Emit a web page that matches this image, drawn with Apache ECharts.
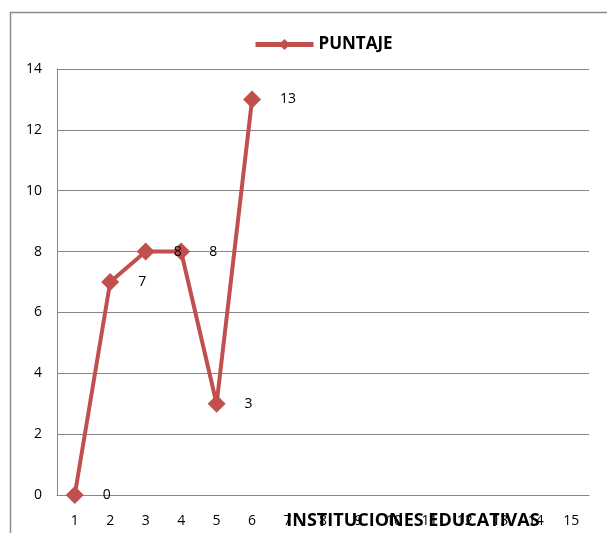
<!DOCTYPE html>
<html><head><meta charset="utf-8">
<script src="https://cdn.jsdelivr.net/npm/echarts@6/dist/echarts.min.js"></script>
<style>html,body{margin:0;padding:0;background:#fff}#c{width:607px;height:533px}</style>
</head><body><div id="c"></div>
<script>
const categories = ['1','2','3','4','5','6','7','8','9','10','11','12','13','14','15'];
const puntaje = [0, 7, 8, 8, 3, 13];
const seriesName = 'PUNTAJE';
const xAxisName = 'INSTITUCIONES EDUCATIVAS';

const chart = echarts.init(document.getElementById('c'));
const font = '"Open Sans", "Liberation Sans", sans-serif';
chart.setOption({
  animation: false,
  graphic: [{
    type: 'rect', shape: {x: 10.5, y: 12.5, width: 800, height: 700},
    style: {fill: 'none', stroke: '#8c8c8c', lineWidth: 1.5}
  }],
  legend: {
    top: 31, left: 248, itemWidth: 58, itemHeight: 14, itemGap: 4,
    data: [seriesName],
    lineStyle: {width: 5},
    textStyle: {fontFamily: font, fontWeight: 'bold', fontSize: 17, color: '#000'}
  },
  grid: {left: 57, right: 18, top: 69, bottom: 38, outerBoundsMode: 'none', containLabel: false},
  xAxis: {
    type: 'category', data: categories, boundaryGap: true,
    name: xAxisName, nameLocation: 'middle', nameGap: 26, nameMoveOverlap: false,
    nameTextStyle: {fontFamily: font, fontWeight: 'bold', fontSize: 18, color: '#000', padding: [0, 0, 0, 180], verticalAlign: 'middle'},
    axisLine: {lineStyle: {color: '#868686', width: 1}},
    axisTick: {show: false},
    axisLabel: {fontFamily: font, fontSize: 14, color: '#000', margin: 19}
  },
  yAxis: {
    type: 'value', min: 0, max: 14, interval: 2,
    axisLine: {show: true, lineStyle: {color: '#868686', width: 1}},
    axisTick: {show: false},
    axisLabel: {fontFamily: font, fontSize: 14, color: '#000', margin: 15},
    splitLine: {lineStyle: {color: '#868686', width: 1}}
  },
  series: [{
    name: seriesName, type: 'line', data: puntaje,
    symbol: 'diamond', symbolSize: 18,
    lineStyle: {color: '#C0504D', width: 4},
    itemStyle: {color: '#C0504D'},
    label: {show: true, position: 'right', distance: 19, fontFamily: font, fontSize: 14, color: '#000'}
  }]
});
</script></body></html>
